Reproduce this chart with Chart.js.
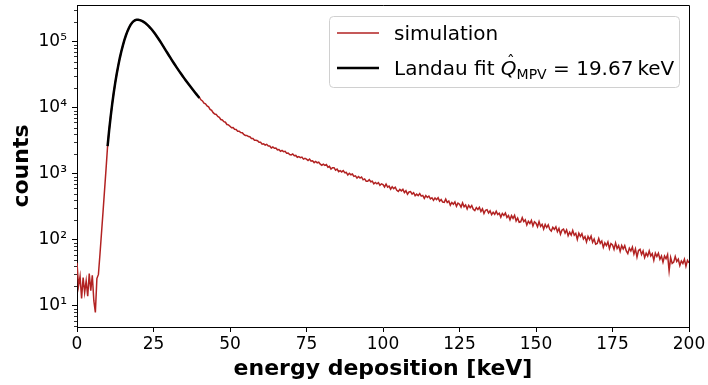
<!DOCTYPE html>
<html>
<head>
<meta charset="utf-8">
<script src="https://cdn.jsdelivr.net/npm/chart.js@4.4.1/dist/chart.umd.min.js"></script>
<style>
  html, body { margin: 0; padding: 0; background: #fff; }
  #wrap { width: 708px; height: 385px; }
</style>
</head>
<body>
<div id="wrap"><canvas id="landau-chart" width="708" height="385"></canvas></div>
<script>
// Histogram of deposited energy, 0.5 keV bins starting at 0 keV
const simStart = 0;
const simBinWidth = 0.5;
const simCounts = [
  45, 20, 28, 13, 27, 16, 24, 14, 31, 17,
  29, 12, 8, 26, 30, 60, 126, 263, 562, 1200,
  2650, 4570, 7330, 11450, 16850, 24100, 32900, 44000, 56800, 72000,
  88100, 106600, 125000, 144800, 162600, 180200, 193800, 205400, 211500, 215600,
  215000, 212900, 208400, 203600, 196300, 189100, 179700, 171000, 161000, 151800,
  141600, 132300, 122200, 113300, 104100, 96100, 87900, 80900, 74100, 68200,
  62400, 57400, 52700, 48600, 44700, 41300, 38100, 35300, 32600, 30300,
  28100, 26100, 24300, 22600, 21100, 19700, 18400, 17200, 16100, 15100,
  14350, 13210, 12710, 11710, 11450, 10670, 10350, 9460, 9150, 8440,
  8030, 7940, 7400, 7180, 6650, 6540, 6170, 6050, 5590, 5520,
  5240, 4980, 5030, 4730, 4690, 4410, 4430, 4230, 4190, 3960,
  3810, 3810, 3670, 3640, 3440, 3430, 3220, 3230, 3170, 3000,
  3000, 2810, 2850, 2730, 2800, 2640, 2640, 2470, 2550, 2440,
  2460, 2310, 2330, 2190, 2260, 2170, 2200, 2050, 2070, 1960,
  1930, 2000, 1880, 1900, 1780, 1820, 1760, 1790, 1670, 1720,
  1670, 1590, 1670, 1560, 1580, 1480, 1540, 1470, 1500, 1400,
  1350, 1400, 1340, 1380, 1260, 1300, 1180, 1240, 1240, 1140,
  1180, 1080, 1120, 1070, 1120, 1040, 1050, 960, 1020, 968,
  994, 916, 932, 862, 911, 862, 896, 813, 838, 775,
  773, 816, 759, 773, 707, 739, 708, 735, 670, 706,
  688, 633, 701, 629, 653, 586, 639, 597, 626, 563,
  541, 581, 552, 582, 521, 556, 491, 531, 540, 493,
  519, 467, 493, 467, 502, 460, 472, 425, 468, 440,
  461, 419, 435, 397, 432, 407, 435, 386, 408, 373,
  370, 415, 369, 388, 336, 369, 347, 376, 323, 361,
  347, 314, 363, 317, 337, 294, 334, 308, 331, 290,
  278, 308, 289, 311, 270, 296, 251, 281, 287, 255,
  276, 241, 261, 244, 271, 242, 253, 221, 252, 235,
  255, 219, 234, 201, 233, 212, 236, 194, 214, 185,
  188, 217, 189, 202, 168, 191, 177, 197, 163, 188,
  179, 158, 189, 160, 172, 146, 171, 154, 169, 144,
  136, 155, 144, 158, 133, 149, 122, 141, 146, 127,
  142, 116, 131, 118, 139, 118, 126, 102, 126, 113,
  124, 103, 112, 93, 113, 101, 114, 92, 103, 86,
  88, 105, 89, 96, 77, 90, 82, 93, 74, 88,
  84, 72, 90, 74, 82, 67, 82, 73, 82, 68,
  62, 75, 68, 78, 61, 73, 55, 69, 72, 60,
  68, 54, 63, 57, 68, 57, 62, 49, 63, 56,
  63, 51, 57, 46, 57, 52, 60, 34, 54, 44,
  46, 56, 47, 51, 41, 48, 44, 51, 40, 49,
  45
];

// Landau fit evaluated on 10..40 keV
const fitStart = 10;
const fitStep = 0.5;
const fitCounts = [
  2630, 4550, 7360, 11400, 16900, 24000, 33000, 43900, 57000, 71800,
  88300, 106400, 125300, 144500, 162900, 179900, 194100, 205100, 211800, 215800,
  215300, 212700, 208700, 203300, 196600, 188800, 180000, 170800, 161300, 151600,
  141800, 132100, 122400, 113100, 104300, 95960, 88060, 80800, 74190, 68080,
  62500, 57350, 52770, 48550, 44760, 41280, 38150, 35270, 32680, 30280,
  28120, 26120, 24310, 22640, 21120, 19710, 18400, 17210, 16100, 15070,
  14090
];
const fitMPV = 19.67;

const xTicks = [0, 25, 50, 75, 100, 125, 150, 175, 200];
const supDigits = { 1: "\u00b9", 2: "\u00b2", 3: "\u00b3", 4: "\u2074", 5: "\u2075" };

const RED = "#b22222";
const FONT = "'DejaVu Sans', sans-serif";

const simPoints = simCounts.map((c, i) => ({ x: simStart + i * simBinWidth, y: c }));
const fitPoints = fitCounts.map((c, i) => ({ x: fitStart + i * fitStep, y: c }));

const Y_MIN = 4.8, Y_MAX = 360000;

// every 1..9 x 10^n inside the axis range
const yTickValues = [];
for (let e = 0; e <= 5; e++) {
  for (let m = 1; m <= 9; m++) {
    const v = m * Math.pow(10, e);
    if (v >= Y_MIN && v <= Y_MAX) yTickValues.push(v);
  }
}
const isDecade = v => Math.abs(Math.log10(v) - Math.round(Math.log10(v))) < 1e-9;

// frame, minor y ticks and legend
const framePlugin = {
  id: "frame",
  afterDraw(chart) {
    const { ctx, chartArea: a, scales } = chart;
    ctx.save();
    ctx.strokeStyle = "#000";
    ctx.lineWidth = 1;
    ctx.beginPath();
    ctx.moveTo(a.left, a.top + 0.5);
    ctx.lineTo(a.right + 0.5, a.top + 0.5);
    ctx.lineTo(a.right + 0.5, a.bottom);
    ctx.stroke();

    ctx.lineWidth = 0.8;
    ctx.beginPath();
    yTickValues.filter(v => !isDecade(v)).forEach(v => {
      const py = Math.round(scales.y.getPixelForValue(v)) + 0.5;
      ctx.moveTo(a.left - 3, py);
      ctx.lineTo(a.left, py);
    });
    ctx.stroke();

    // legend
    const lx = 329, ly = 16, lw = 350, lh = 71;
    ctx.beginPath();
    ctx.roundRect(lx + 0.5, ly + 0.5, lw, lh, 4);
    ctx.fillStyle = "rgba(255,255,255,0.8)";
    ctx.fill();
    ctx.strokeStyle = "#d0d0d0";
    ctx.lineWidth = 1;
    ctx.stroke();

    const rows = [
      { y: 33, color: RED, width: 1.5 },
      { y: 68, color: "#000", width: 2.5 }
    ];
    rows.forEach(r => {
      ctx.beginPath();
      ctx.strokeStyle = r.color;
      ctx.lineWidth = r.width;
      ctx.moveTo(337, r.y);
      ctx.lineTo(379, r.y);
      ctx.stroke();
    });

    ctx.fillStyle = "#000";
    ctx.textBaseline = "alphabetic";
    ctx.font = "20px " + FONT;
    ctx.fillText("simulation", 394, 40);

    let tx = 394;
    const by = 75;
    ctx.fillText("Landau fit ", tx, by);
    tx += ctx.measureText("Landau fit ").width;
    ctx.font = "italic 20px " + FONT;
    ctx.fillText("Q", tx, by);
    const qw = ctx.measureText("Q").width;
    ctx.font = "16px " + FONT;
    ctx.textAlign = "center";
    ctx.fillText("\u02c6", tx + qw / 2 + 2, by - 8);
    ctx.textAlign = "left";
    tx += qw;
    ctx.font = "14px " + FONT;
    ctx.fillText("MPV", tx, by + 4);
    tx += ctx.measureText("MPV").width;
    ctx.font = "20px " + FONT;
    ctx.fillText(" = " + fitMPV.toFixed(2) + "\u2009keV", tx, by);
    ctx.restore();
  }
};

new Chart(document.getElementById("landau-chart"), {
  type: "line",
  data: {
    datasets: [
      {
        label: "simulation",
        data: simPoints,
        borderColor: RED,
        borderWidth: 1.5,
        pointRadius: 0,
        tension: 0,
        order: 1
      },
      {
        label: "Landau fit",
        data: fitPoints,
        borderColor: "#000",
        borderWidth: 2.5,
        pointRadius: 0,
        tension: 0,
        order: 0
      }
    ]
  },
  options: {
    responsive: false,
    animation: false,
    devicePixelRatio: 1,
    layout: { padding: { top: 5, right: 19, left: 0, bottom: 0 } },
    plugins: {
      legend: { display: false },
      tooltip: { enabled: false }
    },
    scales: {
      x: {
        type: "linear",
        min: 0,
        max: 200,
        afterFit(scale) {
          scale.height = 58;
          scale.paddingLeft = 0;
          scale.paddingRight = 0;
        },
        afterBuildTicks(scale) { scale.ticks = xTicks.map(v => ({ value: v })); },
        grid: { drawOnChartArea: false, tickLength: 5, color: "#000", tickWidth: 1 },
        border: { color: "#000", width: 1 },
        ticks: {
          color: "#000",
          padding: 2,
          maxRotation: 0,
          autoSkip: false,
          font: { family: FONT, size: 17 }
        },
        title: {
          display: true,
          text: "energy deposition [keV]",
          color: "#000",
          padding: { top: 0, bottom: 3 },
          font: { family: FONT, size: 22, weight: "bold" }
        }
      },
      y: {
        type: "logarithmic",
        min: Y_MIN,
        max: Y_MAX,
        afterFit(scale) {
          scale.width = 77;
          scale.paddingTop = 0;
          scale.paddingBottom = 0;
        },
        afterBuildTicks(scale) { scale.ticks = yTickValues.map(v => ({ value: v })); },
        grid: {
          drawOnChartArea: false,
          tickLength: 5,
          tickWidth: 1,
          tickColor: c => (c.tick && isDecade(c.tick.value) ? "#000" : "rgba(0,0,0,0)")
        },
        border: { color: "#000", width: 1 },
        ticks: {
          color: "#000",
          padding: 5,
          autoSkip: false,
          font: { family: FONT, size: 17 },
          callback: v => (isDecade(v) ? "10" + supDigits[Math.round(Math.log10(v))] : "")
        },
        title: {
          display: true,
          text: "counts",
          color: "#000",
          padding: { top: 9, bottom: 0 },
          font: { family: FONT, size: 22, weight: "bold" }
        }
      }
    }
  },
  plugins: [framePlugin]
});
</script>
</body>
</html>
